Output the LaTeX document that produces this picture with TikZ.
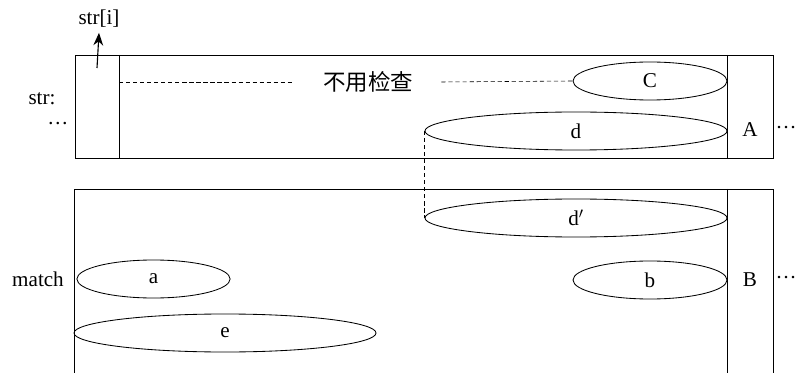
\documentclass[tikz,border=0pt]{standalone}
\usepackage{fontspec}
\setmainfont{Liberation Serif}
\newfontfamily\cjk{Noto Sans CJK SC}
\usetikzlibrary{shapes.geometric,arrows.meta}

\tikzset{
  lens/.style={ellipse, draw, inner sep=0pt, minimum height=0.95cm},
  gap/.style={dash pattern=on 3pt off 2pt, line width=0.4pt},
  more/.style={inner sep=0pt, anchor=west},
}

\begin{document}
\begin{tikzpicture}[x=0.025cm, y=-0.025cm, line width=0.6pt, font=\fontsize{15}{18}\selectfont]
  \useasboundingbox (0,0) rectangle (800,373);
  % str row
  \draw (75,55) rectangle (773,158);
  \draw (119,55) -- (119,158);
  \draw (727,55) -- (727,158);
  % match row
  \draw (74,373) -- (74,189) -- (773,189) -- (773,373);
  \draw (727,189) -- (727,373);
  % cells
  \node (A) at (750,130) {A};
  \node (B) at (750,280) {B};
  \node[more, anchor=east] (mA) at (797,130) {···};
  \node[more, anchor=east] (mB) at (797,280) {···};
  \node (strlab) at (42,99) {str:};
  \node[more] (sdots) at (47,126) {···};
  \node (matchlab) at (38,279) {match};
  \node (stri) at (99,19) {str[i]};
  \coordinate (base) at (97,68);
  \draw[line width=0.8pt, -{Stealth[length=9pt,width=7pt]}] (base) -- (stri.south);
  % ellipses
  \node[lens, minimum width=3.85cm] (C) at (650,81) {C};
  \node[lens, minimum width=7.55cm] (d) at (576,131) {d};
  \node[lens, minimum width=7.55cm] (dp) at (576,218) {d$'$};
  \node[lens, minimum width=3.85cm] (b) at (650,280) {b};
  \node[lens, minimum width=3.83cm] (a) at (153.5,279) {a};
  \node[lens, minimum width=7.55cm] (e) at (225,333) {e};
  % skip note
  \node[inner xsep=0.7cm, font=\cjk\fontsize{16}{19}\selectfont] (skip) at (368,82) {不用检查};
  \coordinate (inner) at (119,82);
  \draw[gap] (inner) -- (skip.west);
  \draw[gap] (skip.east) -- (C.west);
  \draw[gap] (d.west) -- (dp.west);
\end{tikzpicture}
\end{document}
